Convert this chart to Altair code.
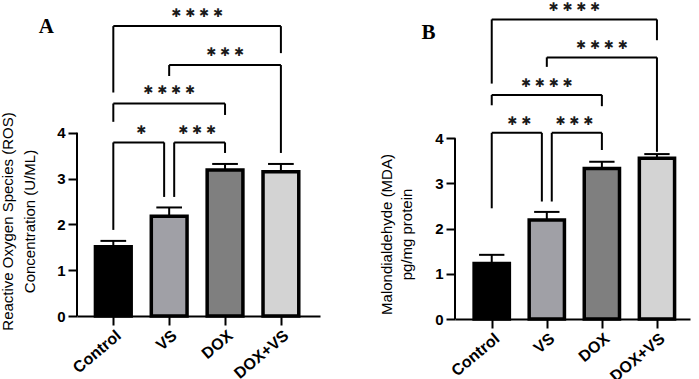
import altair as alt
import pandas as pd

groups = ["Control", "VS", "DOX", "DOX+VS"]
fills = ["#000000", "#a0a0a6", "#7f7f7f", "#d3d3d3"]

ros_mean = [1.51, 2.18, 3.19, 3.15]
ros_err = [0.13, 0.19, 0.13, 0.17]
mda_mean = [1.23, 2.19, 3.33, 3.56]
mda_err = [0.19, 0.18, 0.15, 0.09]

# significance brackets (group indices, bracket top, leg bottoms, label height, label)
ros_br_a = [0, 1, 0, 1, 0]
ros_br_b = [1, 2, 2, 3, 3]
ros_br_top = [3.79, 3.79, 4.64, 5.48, 6.33]
ros_br_lo_a = [1.88, 2.60, 4.24, 5.24, 4.88]
ros_br_lo_b = [2.60, 3.56, 4.39, 3.56, 5.74]
ros_br_lab_y = [4.06, 4.06, 4.93, 5.76, 6.62]
ros_br_lab = ["✱", "✱ ✱ ✱", "✱ ✱ ✱ ✱", "✱ ✱ ✱", "✱ ✱ ✱ ✱"]

mda_br_a = [0, 1, 0, 1, 0]
mda_br_b = [1, 2, 2, 3, 3]
mda_br_top = [4.12, 4.12, 4.96, 5.79, 6.63]
mda_br_lo_a = [2.45, 2.60, 4.73, 5.58, 5.21]
mda_br_lo_b = [2.60, 3.74, 4.71, 3.70, 6.17]
mda_br_lab_y = [4.39, 4.39, 5.23, 6.06, 6.90]
mda_br_lab = ["✱ ✱", "✱ ✱ ✱", "✱ ✱ ✱ ✱", "✱ ✱ ✱ ✱", "✱ ✱ ✱ ✱"]

# small sideways nudge of legs sharing the same bar
nudge_a = [0, 0.09, 0, 0, 0]
nudge_b = [-0.09, 0, 0, 0, 0]

FONT = "Liberation Sans"
label_expr = "['Control','VS','DOX','DOX+VS'][datum.value]"


def panel(means, errs, br_a, br_b, br_top, br_lo_a, br_lo_b, br_lab_y, br_lab,
          ytitle, letter, letter_xy, xdom, ymax, width, height,
          title_x, title_y, title_lh):
    bars = pd.DataFrame({
        "group": groups,
        "pos": list(range(len(groups))),
        "mean": means,
        "upper": [m + e for m, e in zip(means, errs)],
        "fill": fills,
    })
    segs = []
    texts = []
    for i in range(len(br_a)):
        xa = br_a[i] + nudge_a[i]
        xb = br_b[i] + nudge_b[i]
        t = br_top[i]
        segs.append({"x": xa, "x2": xa, "y": br_lo_a[i], "y2": t})
        segs.append({"x": xa, "x2": xb, "y": t, "y2": t})
        segs.append({"x": xb, "x2": xb, "y": br_lo_b[i], "y2": t})
        texts.append({"x": (br_a[i] + br_b[i]) / 2, "y": br_lab_y[i], "label": br_lab[i]})
    segs = pd.DataFrame(segs)
    texts = pd.DataFrame(texts)

    xs = alt.Scale(domain=xdom, nice=False, zero=False)
    ys = alt.Scale(domain=[0, ymax], nice=False, zero=False)

    xaxis = alt.Axis(values=[0, 1, 2, 3], labelExpr=label_expr, title=None,
                     labelAngle=-40, labelFont=FONT, labelFontWeight="bold",
                     labelFontSize=16, labelColor="black", tickSize=9, tickWidth=2,
                     tickColor="black", domainColor="black", domainWidth=2,
                     grid=False, labelPadding=2, labelOverlap=False, labelBound=False)
    yaxis = alt.Axis(values=[0, 1, 2, 3, 4], title=ytitle, domain=False,
                     labelFont=FONT, labelFontWeight="bold", labelFontSize=15,
                     labelColor="black", tickSize=9, tickWidth=2, tickColor="black",
                     grid=False, titleFont=FONT, titleFontWeight="normal",
                     titleFontSize=15, titleColor="black",
                     titleLineHeight=title_lh, labelPadding=3,
                     titleX=title_x, titleY=title_y)

    base = alt.Chart(bars)
    bar = base.transform_calculate(
        x0="datum.pos - 0.32", x1="datum.pos + 0.32"
    ).mark_bar(stroke="black", strokeWidth=3.5).encode(
        x=alt.X("x0:Q", scale=xs, axis=xaxis),
        x2="x1:Q",
        y=alt.Y("mean:Q", scale=ys, axis=yaxis),
        y2=alt.datum(0),
        fill=alt.Fill("fill:N", scale=None),
    )
    stem = base.mark_rule(color="black", strokeWidth=2).encode(
        x="pos:Q", y="mean:Q", y2="upper:Q"
    )
    cap = base.transform_calculate(
        c0="datum.pos - 0.23", c1="datum.pos + 0.23"
    ).mark_rule(color="black", strokeWidth=2).encode(
        x="c0:Q", x2="c1:Q", y="upper:Q"
    )
    yline = alt.Chart(pd.DataFrame({"a": [0], "b": [4]})).mark_rule(
        color="black", strokeWidth=2
    ).encode(x=alt.value(0), y="a:Q", y2="b:Q")
    br = alt.Chart(segs).mark_rule(color="black", strokeWidth=2).encode(
        x="x:Q", x2="x2:Q", y="y:Q", y2="y2:Q"
    )
    st = alt.Chart(texts).mark_text(
        font="DejaVu Sans", fontSize=12, color="#1a1a1a",
        baseline="middle"
    ).encode(x="x:Q", y="y:Q", text="label:N")
    let = alt.Chart(pd.DataFrame({"x": [letter_xy[0]], "y": [letter_xy[1]], "t": [letter]})).mark_text(
        font="Liberation Serif", fontSize=21, fontWeight="bold", color="black",
        baseline="middle"
    ).encode(x="x:Q", y="y:Q", text="t:N")
    return alt.layer(bar, stem, cap, yline, br, st, let).properties(width=width, height=height)


pa = panel(ros_mean, ros_err, ros_br_a, ros_br_b, ros_br_top, ros_br_lo_a, ros_br_lo_b,
           ros_br_lab_y, ros_br_lab,
           ["Reactive Oxygen Species (ROS)", "Concentration (U/ML)"], "A", (-1.2, 6.31),
           [-0.65, 3.70], 6.90, 243, 316, -62, 221, 22)
pb = panel(mda_mean, mda_err, mda_br_a, mda_br_b, mda_br_top, mda_br_lo_a, mda_br_lo_b,
           mda_br_lab_y, mda_br_lab,
           ["Malondialdehyde (MDA)", "pg/mg protein"], "B", (-1.15, 6.33),
           [-0.667, 3.6], 7.06, 235, 319, -61, 234, 20)

chart = alt.hconcat(pa, pb, spacing=59).properties(
    padding={"left": 0, "top": 0, "right": 2, "bottom": 0},
    background="white",
).configure_view(stroke=None)

chart.save("out.html", embed_options={"renderer": "svg", "actions": False})
